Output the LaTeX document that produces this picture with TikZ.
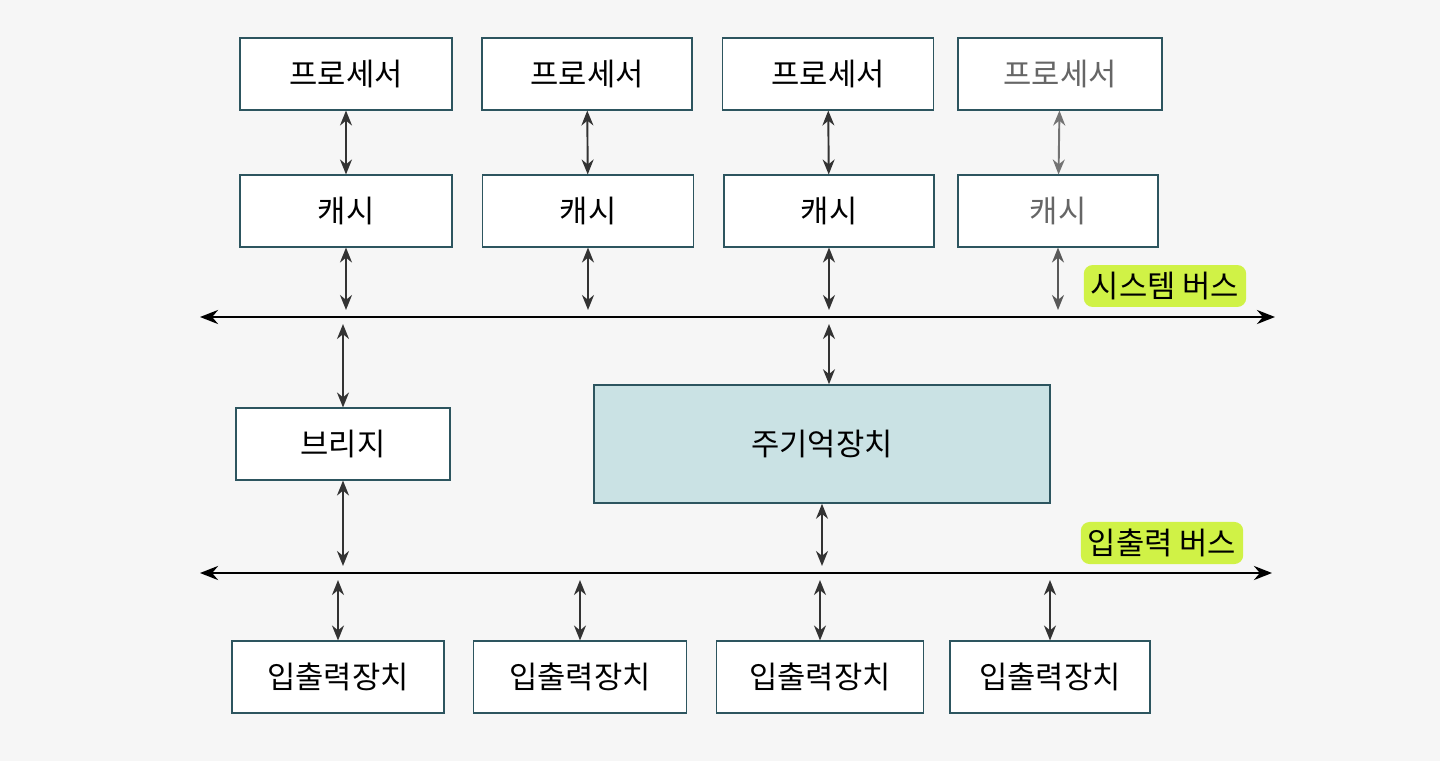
\documentclass[tikz,border=0pt]{standalone}
\usepackage{fontspec}
\newfontfamily\kofont{Noto Sans CJK KR}
\usepackage{tikz}
\usetikzlibrary{arrows.meta,positioning}
\definecolor{boxline}{RGB}{45,85,95}
\definecolor{memfill}{RGB}{202,226,228}
\definecolor{marker}{RGB}{208,242,70}
\definecolor{paper}{RGB}{246,246,246}
\tikzset{
  unitbox/.style={draw=boxline, fill=white, line width=0.9pt, minimum height=1.43cm, inner sep=0pt, font=\kofont\fontsize{17.5}{20}\selectfont},
  membox/.style={unitbox, fill=memfill, minimum width=9.12cm, minimum height=2.36cm},
  linkarrow/.style={{Stealth[length=3mm,width=2.4mm]}-{Stealth[length=3mm,width=2.4mm]}, line width=1.1pt, draw=black!80},
  busline/.style={{Stealth[length=3.6mm,width=2.8mm]}-{Stealth[length=3.6mm,width=2.8mm]}, line width=1.6pt},
  buslabel/.style={fill=marker, rounded corners=5pt, inner xsep=4pt, inner ysep=4pt, font=\kofont\fontsize{17.5}{20}\selectfont},
  faded/.style={text=black!60},
}
\begin{document}
\begin{tikzpicture}[x=0.02cm, y=-0.02cm]
  \useasboundingbox[fill=paper] (0,0) rectangle (1440,761);

  % processors
  \node[unitbox, minimum width=4.24cm] (proc1) at (346,74) {프로세서};
  \node[unitbox, minimum width=4.20cm] (proc2) at (587,74) {프로세서};
  \node[unitbox, minimum width=4.22cm] (proc3) at (828,74) {프로세서};
  \node[unitbox, faded, minimum width=4.08cm] (proc4) at (1060,74) {프로세서};

  % caches
  \node[unitbox, minimum width=4.24cm] (cache1) at (346,211) {캐시};
  \node[unitbox, minimum width=4.22cm] (cache2) at (588,211) {캐시};
  \node[unitbox, minimum width=4.20cm] (cache3) at (829,211) {캐시};
  \node[unitbox, faded, minimum width=4.00cm] (cache4) at (1058,211) {캐시};

  % system bus
  \coordinate (sysL) at (200,317);
  \coordinate (sysR) at (1275,317);
  \draw[busline] (sysL) -- (sysR);
  \node[buslabel] (syslbl) at (1165,286) {시스템 버스};

  % bridge and main memory
  \node[unitbox, minimum width=4.28cm] (bridge) at (343,444) {브리지};
  \node[membox] (mem) at (822,444) {주기억장치};

  % io bus
  \coordinate (ioL) at (200,573);
  \coordinate (ioR) at (1272,573);
  \draw[busline] (ioL) -- (ioR);
  \node[buslabel] (iolbl) at (1162,543) {입출력 버스};

  % io devices
  \node[unitbox, minimum width=4.24cm] (dev1) at (338,677) {입출력장치};
  \node[unitbox, minimum width=4.26cm] (dev2) at (580,677) {입출력장치};
  \node[unitbox, minimum width=4.14cm] (dev3) at (820,677) {입출력장치};
  \node[unitbox, minimum width=4.00cm] (dev4) at (1050,677) {입출력장치};

  % links
  \foreach \i in {1,2,3} {
    \draw[linkarrow] (proc\i) -- (cache\i);
    \draw[linkarrow, shorten >=4pt] (cache\i) -- (cache\i.south |- sysL);
  }
  \draw[linkarrow, draw=black!55] (proc4) -- (cache4);
  \draw[linkarrow, draw=black!65, shorten >=4pt] (cache4) -- (cache4.south |- sysL);
  \draw[linkarrow, shorten <=4pt] (bridge.north |- sysL) -- (bridge);
  \draw[linkarrow, shorten <=4pt] (cache3.south |- sysL) -- (cache3.south |- mem.north);
  \draw[linkarrow, shorten >=4pt] (bridge) -- (bridge.south |- ioL);
  \draw[linkarrow, shorten >=4pt] (mem) -- (mem.south |- ioL);
  \foreach \i in {1,2,3,4}
    \draw[linkarrow, shorten <=4pt] (dev\i.north |- ioL) -- (dev\i);
\end{tikzpicture}
\end{document}
